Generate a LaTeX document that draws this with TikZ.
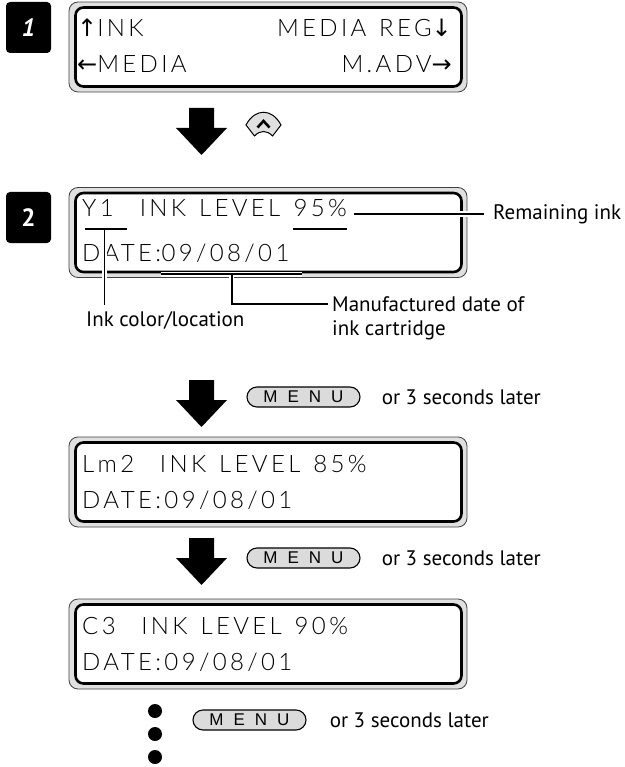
\documentclass[tikz,border=0pt]{standalone}
\usepackage{fontspec}
\setmainfont{PT Sans}
\newfontfamily\lcdfont[LetterSpace=14,WordSpace=1.3]{Lato Light}
\newfontfamily\symfont{DejaVu Sans}
\newfontfamily\keyfont{Liberation Sans}
\usetikzlibrary{positioning,calc,shapes.misc}
\newcommand{\arr}[1]{{\symfont\fontsize{24}{24}\selectfont #1}}
\begin{document}
\begin{tikzpicture}[x=1pt,y=-1pt,
  lcdouter/.style={draw=black!75,line width=0.8pt,fill=black!12,rounded corners=9pt,minimum width=398pt,minimum height=90pt,inner sep=0pt},
  lcdinner/.style={draw,line width=2.6pt,fill=white,rounded corners=8pt,minimum width=386pt,minimum height=79pt,inner sep=0pt},
  lcd/.style={inner sep=0pt,font=\lcdfont\fontsize{24}{24}\selectfont},
  badge/.style={fill=black,text=white,rounded corners=4pt,minimum width=45pt,minimum height=51pt,inner sep=0pt,font=\bfseries\fontsize{25}{25}\selectfont},
  menukey/.style={rounded rectangle,draw,line width=1.1pt,fill=black!14,minimum width=113pt,minimum height=20pt,inner sep=0pt,font=\keyfont\fontsize{17}{17}\selectfont},
  note/.style={inner sep=0pt,font=\fontsize{21}{21}\selectfont},
  leader/.style={line width=1.5pt,preaction={draw=white,line width=5pt}}]
\useasboundingbox (0,0) rectangle (624,767);
\node[badge] (s1) at (28.5,27.5) {\itshape 1};
\node[badge] (s2) at (28.5,217.5) {2};
\foreach \c/\n in {47/d1,232.5/d2,482/d3,644/d4} {
  \node[lcdouter] (\n o) at (268,\c) {};
  \node[lcdinner] (\n) at (268.5,\c) {};
}
\node[lcd,anchor=base west] (ink) at (77,37) {\arr{↑}INK};
\node[lcd,anchor=base east] (mreg) at (452,37) {MEDIA REG\arr{↓}};
\node[lcd,anchor=base west] (media) at (77,73) {\arr{←}MEDIA};
\node[lcd,anchor=base east] (madv) at (452,73) {M.ADV\arr{→}};
\node[lcd,anchor=base west] (y1) at (82,216) {Y1\ \null};
\node[lcd,anchor=base west] (lvl) at (y1.base east) {\ INK LEVEL\ \null};
\node[lcd,anchor=base west] (pct) at (lvl.base east) {95\%};
\node[lcd,anchor=base west] (dt) at (82,261) {DATE:};
\node[lcd,anchor=base west] (dv) at (dt.base east) {09/08/01\ \null};
\node[lcd,anchor=base west] (lm) at (82,472) {Lm2\ \ INK LEVEL 85\%};
\node[lcd,anchor=base west] (lmd) at (82,508) {DATE:09/08/01};
\node[lcd,anchor=base west] (c3) at (82,634) {C3\ \ INK LEVEL 90\%};
\node[lcd,anchor=base west] (c3d) at (82,670) {DATE:09/08/01};
\foreach \y in {108,380,538}
  \fill (189,\y) -- (214,\y) -- (214,\y+20) -- (227,\y+20) -- (201.5,\y+47) -- (176,\y+20) -- (189,\y+20) -- cycle;
\draw[line width=1pt,fill=black!12] (246,125) .. controls (255,108) and (272,108) .. (281,125) -- (272.5,136) .. controls (267,130) and (260,130) .. (254.5,136) -- cycle;
\draw[line width=2.6pt] (257.5,127.5) -- (263.5,121) -- (269.5,127.5);
\node[note,anchor=north west] (inkloc) at (86,311) {Ink color/location};
\node[note,anchor=west] (remain) at (493,214) {Remaining ink};
\node[note,anchor=west] (mfd) at (332,304) {Manufactured date of};
\node[note,anchor=base west] (mfd2) at ([yshift=-24pt]mfd.base west) {ink cartridge};
\coordinate (uy) at ($(y1.base)+(0,13)$);
\coordinate (ud) at ($(dv.base)+(0,13)$);
\draw[leader] ($(y1.base west)+(3,13)$) -- ($(y1.base east)+(0,13)$) (uy) -- ($(uy |- inkloc.north)+(0,-6)$);
\draw[leader] ($(pct.base west)+(0,13)$) -- ($(pct.base east)+(0,13)$);
\draw[leader] ($(pct.east |- remain.west)+(7,0)$) -- ($(remain.west)+(-9,0)$);
\draw[leader] ($(dv.base west)+(0,13)$) -- ($(dv.base east)+(0,13)$) (ud) -- (ud |- mfd.west) -- ($(mfd.west)+(-4,0)$);
\node[menukey] (menu1) at (303.5,397) {M\hspace{10pt}E\hspace{10pt}N\hspace{10pt}U};
\node[note,right=21pt of menu1] (later1) {or 3 seconds later};
\node[menukey] (menu2) at (303.5,558) {M\hspace{10pt}E\hspace{10pt}N\hspace{10pt}U};
\node[note,right=21pt of menu2] (later2) {or 3 seconds later};
\node[menukey] (menu3) at (249.5,720) {M\hspace{10pt}E\hspace{10pt}N\hspace{10pt}U};
\node[note,right=23pt of menu3] (later3) {or 3 seconds later};
\foreach \y in {711,734,757}
  \fill (155,\y) circle (7pt);
\end{tikzpicture}
\end{document}
